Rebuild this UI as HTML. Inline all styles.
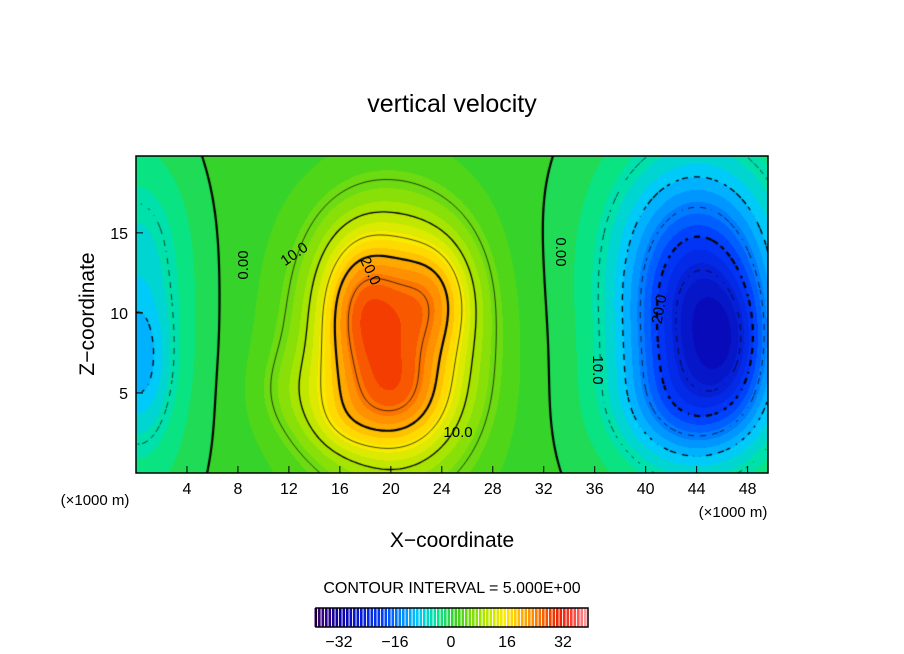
<!DOCTYPE html>
<html><head><meta charset="utf-8"><style>
body{margin:0;background:#fff;}
#wrap{position:relative;width:904px;height:654px;font-family:"Liberation Sans",sans-serif;}
svg text{font-family:"Liberation Sans",sans-serif;fill:#000;}
</style></head><body>
<div id="wrap">
<canvas id="field" width="632" height="317" style="position:absolute;left:136px;top:156px"></canvas>
<svg id="ov" width="904" height="654" style="position:absolute;left:0;top:0">
<text x="452" y="112" font-size="25" text-anchor="middle">vertical velocity</text>
<rect x="136" y="156" width="632" height="317" fill="none" stroke="#000" stroke-width="1.5"/>
<g id="xt"></g>
<g id="yt"></g>
<text x="95" y="505" font-size="15" text-anchor="middle">(×1000 m)</text>
<text x="733" y="517" font-size="15" text-anchor="middle">(×1000 m)</text>
<text x="452" y="547" font-size="21" text-anchor="middle">X−coordinate</text>
<text transform="translate(94,314) rotate(-90)" font-size="21" text-anchor="middle">Z−coordinate</text>
<text x="452" y="593" font-size="16" text-anchor="middle">CONTOUR INTERVAL = 5.000E+00</text>
<g id="cb"></g>
<g font-size="15">
<text transform="translate(248,265) rotate(-90)" text-anchor="middle">0.00</text>
<text transform="translate(297,258) rotate(-35)" text-anchor="middle">10.0</text>
<text transform="translate(366,273) rotate(65)" text-anchor="middle">20.0</text>
<text x="458" y="437" text-anchor="middle">10.0</text>
<text transform="translate(556,252) rotate(90)" text-anchor="middle">0.00</text>
<text transform="translate(664,310) rotate(-80)" text-anchor="middle">20.0</text>
<text transform="translate(593,370) rotate(90)" text-anchor="middle">10.0</text>
</g>
</svg>
</div>
<script>
const xTicks=[4,8,12,16,20,24,28,32,36,40,44,48];
const zTicks=[5,10,15];
const cbTicks=[-32,-16,0,16,32];
const blobX=[20,17.5,23.5,20.5,20,44,43.5,47,44,44,0,0.3,0,13,16];
const blobZ=[7.5,10.5,11,4.5,14,9,4,8,15,10,9,7,15,5,3];
const blobAmp=[21,9,8,7,4,-19,-7,-7,-8,-5,-7,-6,-2,3,3];
const blobSx=[4.5,2.2,2.2,3,4,3.8,4,2,4.5,7,3.5,1.5,2.5,2.5,2];
const blobSz=[5.2,3,2.5,2.2,3,4.5,2.5,3,4,10,8,3,3,2,1.5];
const background=[1.0];
const X0=136,Y0=156,W=632,H=317,XMAX=49.6,ZMAX=19.8;
const xs=x=>X0+x/XMAX*W, zs=z=>Y0+H-z/ZMAX*H;
const NS="http://www.w3.org/2000/svg";
function val(x,z){let v=background[0];for(let i=0;i<blobX.length;i++){const dx=(x-blobX[i])/blobSx[i],dz=(z-blobZ[i])/blobSz[i];v+=blobAmp[i]*Math.exp(-0.5*(dx*dx+dz*dz));}return v;}
const stops=[[0,[70,0,110]],[0.1,[10,0,170]],[0.25,[0,60,255]],[0.38,[0,200,255]],[0.45,[0,230,150]],[0.52,[60,210,30]],[0.62,[170,230,0]],[0.7,[255,235,0]],[0.8,[255,140,0]],[0.9,[240,30,0]],[0.97,[255,90,90]],[1,[255,170,170]]];
function cmap(v){let t=(v+39)/78;t=Math.max(0,Math.min(1,t));for(let i=1;i<stops.length;i++){if(t<=stops[i][0]){const a=stops[i-1],b=stops[i],f=(t-a[0])/(b[0]-a[0]);return a[1].map((c,k)=>Math.round(c+(b[1][k]-c)*f));}}return stops[stops.length-1][1];}
const cv=document.getElementById('field'),ctx=cv.getContext('2d');
const img=ctx.createImageData(W,H);
for(let py=0;py<H;py++)for(let px=0;px<W;px++){const x=px/W*XMAX,z=(H-py)/H*ZMAX;let v=val(x,z);v=Math.floor(v/2)*2+1;const c=cmap(v),o=(py*W+px)*4;img.data[o]=c[0];img.data[o+1]=c[1];img.data[o+2]=c[2];img.data[o+3]=255;}
ctx.putImageData(img,0,0);
const S=3,nx=Math.ceil(W/S)+1,ny=Math.ceil(H/S)+1,g=[];
for(let j=0;j<ny;j++){g[j]=[];for(let i=0;i<nx;i++)g[j][i]=val(i*S/W*XMAX,(H-j*S)/H*ZMAX);}
const levels=[-25,-20,-15,-10,-5,0,5,10,15,20,25];
levels.forEach(L=>{ctx.beginPath();ctx.strokeStyle='#000';ctx.lineWidth=(L===0||Math.abs(L)===20)?2.2:(Math.abs(L)===10?1.3:0.7);
for(let j=0;j<ny-1;j++)for(let i=0;i<nx-1;i++){
if(L<0&&((Math.floor(i/2)+Math.floor(j/2))%2===1))continue;
const c=[g[j][i],g[j][i+1],g[j+1][i+1],g[j+1][i]],p=[[i,j],[i+1,j],[i+1,j+1],[i,j+1]],pts=[];
for(let k=0;k<4;k++){const a=c[k],b=c[(k+1)%4];if((a<L)!==(b<L)){const f=(L-a)/(b-a),A=p[k],B=p[(k+1)%4];pts.push([(A[0]+(B[0]-A[0])*f)*S,(A[1]+(B[1]-A[1])*f)*S]);}}
for(let k=0;k+1<pts.length;k+=2){ctx.moveTo(pts[k][0],pts[k][1]);ctx.lineTo(pts[k+1][0],pts[k+1][1]);}}
ctx.stroke();});
const xt=document.getElementById('xt');
xTicks.forEach(t=>{const l=document.createElementNS(NS,'line');l.setAttribute('x1',xs(t));l.setAttribute('x2',xs(t));l.setAttribute('y1',473);l.setAttribute('y2',466);l.setAttribute('stroke','#000');

xt.appendChild(l);
const tx=document.createElementNS(NS,'text');tx.setAttribute('x',xs(t));tx.setAttribute('y',494);tx.setAttribute('font-size','16');tx.setAttribute('text-anchor','middle');tx.textContent=t;

xt.appendChild(tx);});
const yt=document.getElementById('yt');
zTicks.forEach(t=>{const l=document.createElementNS(NS,'line');l.setAttribute('x1',136);l.setAttribute('x2',143);l.setAttribute('y1',zs(t));l.setAttribute('y2',zs(t));l.setAttribute('stroke','#000');

yt.appendChild(l);
const tx=document.createElementNS(NS,'text');tx.setAttribute('x',128);tx.setAttribute('y',zs(t)+6);tx.setAttribute('font-size','16');tx.setAttribute('text-anchor','end');tx.textContent=t;

yt.appendChild(tx);});
const cb=document.getElementById('cb'),cs=v=>451+v*3.5;
for(let v=-39;v<39;v++){const r=document.createElementNS(NS,'rect');r.setAttribute('x',cs(v));r.setAttribute('y',608);r.setAttribute('width',2.6);r.setAttribute('height',19);const c=cmap(v+0.5);r.setAttribute('fill','rgb('+c.join(',')+')');

cb.appendChild(r);}
const fr=document.createElementNS(NS,'rect');fr.setAttribute('x',316);fr.setAttribute('y',608);fr.setAttribute('width',272);fr.setAttribute('height',19);fr.setAttribute('fill','none');fr.setAttribute('stroke','#000');fr.setAttribute('stroke-width','1.5');

cb.appendChild(fr);
cbTicks.forEach(t=>{const tx=document.createElementNS(NS,'text');tx.setAttribute('x',cs(t));tx.setAttribute('y',647);tx.setAttribute('font-size','16');tx.setAttribute('text-anchor','middle');tx.textContent=t<0?'−'+(-t):t;

cb.appendChild(tx);});
</script>
</body></html>
